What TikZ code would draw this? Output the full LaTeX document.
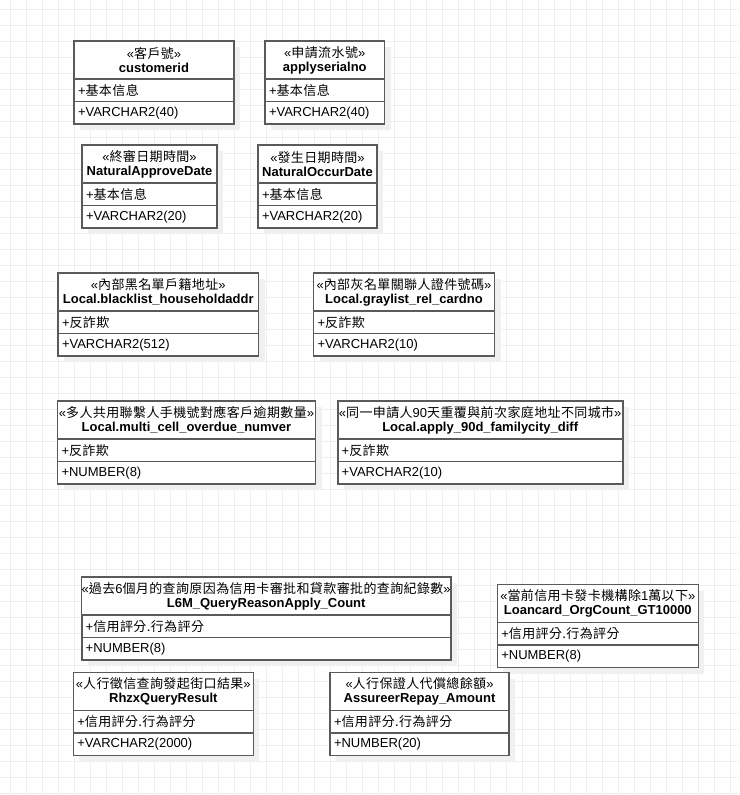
\documentclass[tikz,border=0pt]{standalone}
\usepackage{fontspec}
\setmainfont{Liberation Sans}
\newfontfamily\cjk[LetterSpace=3]{Noto Sans CJK TC}
\usetikzlibrary{positioning,shadows}

\definecolor{boxline}{HTML}{5A5A5A}
\definecolor{gridgray}{HTML}{EEEEEE}
\definecolor{shadowgray}{HTML}{F0F0F0}

% name, top centre, width, stereotype, title, attribute, type
\newcommand{\dbtable}[7]{%
	\node[classhead, minimum width=#3] (#1) at (#2) {«{\cjk #4}»\\\textbf{#5}};
	\pgfmathsetlengthmacro\rowwidth{#3-8pt}
	\node[classrow, text width=\rowwidth, below=0pt of #1] (#1-attr) {+{\cjk #6}};
	\node[classrow, text width=\rowwidth, below=0pt of #1-attr] (#1-type) {#7};
}

\begin{document}
\begin{tikzpicture}[x=1pt,y=-1pt,
			gridline/.style={draw=gridgray, line width=1pt},
			classpart/.style={draw=boxline, line width=1.6pt, fill=white, outer sep=0pt,
				inner xsep=4pt, inner ysep=0pt, font=\fontsize{13}{14}\selectfont,
				drop shadow={shadow xshift=6pt, shadow yshift=-6pt, fill=shadowgray, opacity=1}},
			classhead/.style={classpart, inner xsep=0pt, minimum height=38pt, align=center, anchor=north},
			classrow/.style={classpart, minimum height=22.5pt, align=left}]
		\fill[white] (0,0) rectangle (739,795);
		\useasboundingbox (0,0) rectangle (739,795);
		\foreach \gx in {10.5,26.5,...,730.5}
			\draw[gridline] (\gx,0) -- (\gx,795);
		\foreach \gy in {9.5,25.5,...,793.5}
			\draw[gridline] (0,\gy) -- (739,\gy);

		\dbtable{cust}{154,41}{160pt}{客戶號}{customerid}{基本信息}{+VARCHAR2(40)}
		\dbtable{serial}{324.75,41}{119.5pt}{申請流水號}{applyserialno}{基本信息}{+VARCHAR2(40)}
		\dbtable{approve}{149.5,145}{135pt}{終審日期時間}{NaturalApproveDate}{基本信息}{+VARCHAR2(20)}
		\dbtable{occur}{317.5,145}{119pt}{發生日期時間}{NaturalOccurDate}{基本信息}{+VARCHAR2(20)}

		\dbtable{blackaddr}{158.25,273}{200.5pt}{內部黑名單戶籍地址}{Local.blacklist\_householdaddr}{反詐欺}{+VARCHAR2(512)}
		\dbtable{graycard}{404,273}{181pt}{內部灰名單關聯人證件號碼}{Local.graylist\_rel\_cardno}{反詐欺}{+VARCHAR2(10)}

		\dbtable{multicell}{186.5,401}{258pt}{多人共用聯繫人手機號對應客戶逾期數量}{Local.multi\_cell\_overdue\_numver}{反詐欺}{+NUMBER(8)}
		\dbtable{familycity}{480.2,401}{285pt}{同一申請人{\rmfamily 90}天重覆與前次家庭地址不同城市}{Local.apply\_90d\_familycity\_diff}{反詐欺}{+VARCHAR2(10)}

		\dbtable{querycount}{266.2,577}{369pt}{過去{\rmfamily 6}個月的查詢原因為信用卡審批和貸款審批的查詢紀錄數}{L6M\_QueryReasonApply\_Count}{信用評分.行為評分}{+NUMBER(8)}
		\dbtable{orgcount}{597.8,584.5}{201pt}{當前信用卡發卡機構除{\rmfamily 1}萬以下}{Loancard\_OrgCount\_GT10000}{信用評分.行為評分}{+NUMBER(8)}

		\dbtable{rhzx}{163.3,672.5}{180pt}{人行徵信查詢發起街口結果}{RhzxQueryResult}{信用評分.行為評分}{+VARCHAR2(2000)}
		\dbtable{assure}{419.5,672.5}{179pt}{人行保證人代償總餘額}{AssureerRepay\_Amount}{信用評分.行為評分}{+NUMBER(20)}
	\end{tikzpicture}
\end{document}
